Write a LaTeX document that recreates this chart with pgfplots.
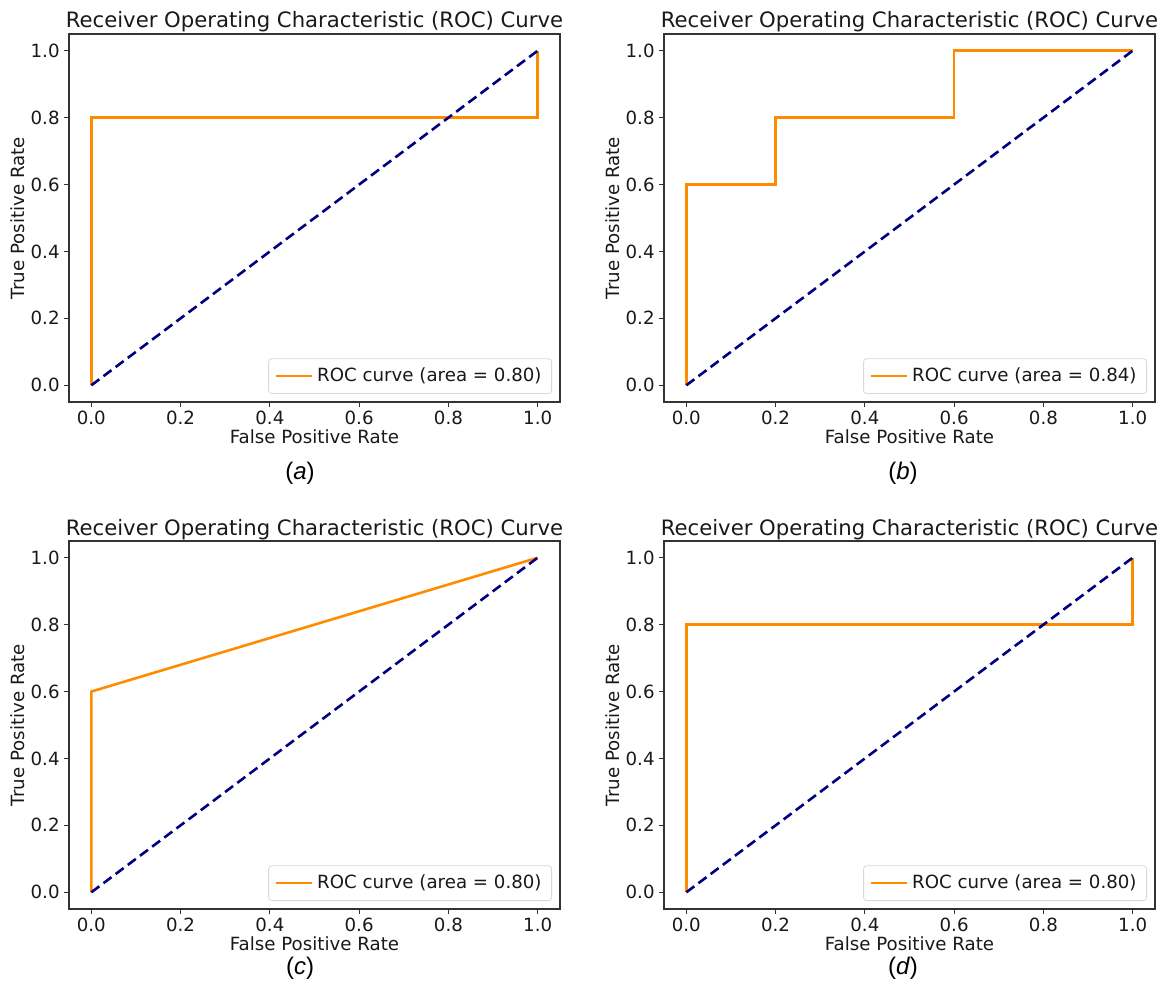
\documentclass[border=0pt]{standalone}
\usepackage{fontspec}
\setmainfont{DejaVu Sans}
\newfontfamily\capfont{Liberation Sans}
\usepackage{pgfplots}
\pgfplotsset{compat=1.18}
\definecolor{roc}{RGB}{255,140,0}
\definecolor{diag}{RGB}{0,0,128}
\pgfplotsset{
  rocaxis/.style={
    scale only axis, width=245.5pt, height=184pt, anchor=south west,
    xmin=-0.05, xmax=1.05, ymin=-0.05, ymax=1.05,
    xtick={0,0.2,0.4,0.6,0.8,1.0}, ytick={0,0.2,0.4,0.6,0.8,1.0},
    xticklabels={0.0,0.2,0.4,0.6,0.8,1.0}, yticklabels={0.0,0.2,0.4,0.6,0.8,1.0},
    tick align=outside, xtick pos=bottom, ytick pos=left,
    major tick length=2.5pt,
    tick style={black!80, line width=0.5pt},
    axis line style={black!80, line width=0.6pt},
    tick label style={font=\fontsize{9.1}{10}\selectfont, text=black!90},
    xticklabel style={inner sep=0pt, yshift=-2pt},
    yticklabel style={inner sep=0pt, xshift=-2pt},
    title={Receiver Operating Characteristic (ROC) Curve},
    title style={at={(axis description cs:0.5,1)}, anchor=base, yshift=-3pt, inner sep=0pt, font=\fontsize{10.6}{12}\selectfont, text=black!90},
    xlabel={False Positive Rate}, ylabel={True Positive Rate},
    xlabel style={at={(axis description cs:0.5,-0.095)}, anchor=center, font=\fontsize{9.1}{10}\selectfont, text=black!90},
    ylabel style={at={(axis description cs:-0.104,0.5)}, anchor=center, rotate=0, font=\fontsize{9.1}{10}\selectfont, text=black!90},
    legend style={at={(axis description cs:1,0)}, anchor=south east, xshift=-4pt, yshift=4pt,
      draw=black!15, rounded corners=1.5pt, fill=white, inner xsep=3pt, inner ysep=2.5pt,
      font=\fontsize{9.1}{10}\selectfont, text=black!90},
    legend cell align=left,
    legend image code/.code={\draw[#1] (0pt,0pt) -- (18pt,0pt);},
  },
  rocline/.style={roc, line width=1.3pt, line join=miter},
  diagline/.style={diag, line width=1.3pt, dash pattern=on 5pt off 2.6pt},
}
\begin{document}
\begin{tikzpicture}
\path[use as bounding box] (0,0) rectangle (578.5pt,-494pt);
% (a)
\begin{axis}[rocaxis, at={(34.5pt,-201pt)}]
\addplot[rocline] coordinates {(0,0) (0,0.8) (1,0.8) (1,1)};
\addlegendentry{ROC curve (area = 0.80)}
\addplot[diagline, forget plot] coordinates {(0,0) (1,1)};
\end{axis}
% (b)
\begin{axis}[rocaxis, at={(332pt,-201pt)}]
\addplot[rocline] coordinates {(0,0) (0,0.6) (0.2,0.6) (0.2,0.8) (0.6,0.8) (0.6,1) (1,1)};
\addlegendentry{ROC curve (area = 0.84)}
\addplot[diagline, forget plot] coordinates {(0,0) (1,1)};
\end{axis}
% (c)
\begin{axis}[rocaxis, at={(34.5pt,-454.5pt)}]
\addplot[rocline] coordinates {(0,0) (0,0.6) (1,1)};
\addlegendentry{ROC curve (area = 0.80)}
\addplot[diagline, forget plot] coordinates {(0,0) (1,1)};
\end{axis}
% (d)
\begin{axis}[rocaxis, at={(332pt,-454.5pt)}]
\addplot[rocline] coordinates {(0,0) (0,0.8) (1,0.8) (1,1)};
\addlegendentry{ROC curve (area = 0.80)}
\addplot[diagline, forget plot] coordinates {(0,0) (1,1)};
\end{axis}
\node[font=\capfont\fontsize{12}{14}\selectfont] at (150pt,-236.5pt) {(\textit{a})};
\node[font=\capfont\fontsize{12}{14}\selectfont] at (451.5pt,-236.5pt) {(\textit{b})};
\node[font=\capfont\fontsize{12}{14}\selectfont] at (150pt,-484pt) {(\textit{c})};
\node[font=\capfont\fontsize{12}{14}\selectfont] at (451.5pt,-484pt) {(\textit{d})};
\end{tikzpicture}
\end{document}
